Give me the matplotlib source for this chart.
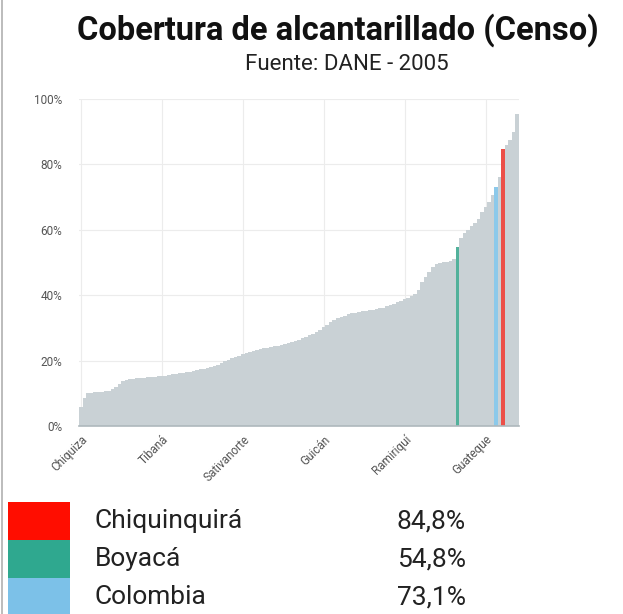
import numpy as np
import matplotlib.pyplot as plt
from matplotlib.patches import Rectangle
from matplotlib.lines import Line2D

plt.rcParams['font.family'] = ['Roboto', 'DejaVu Sans']

# Sewer coverage by municipality (sorted), %
coverage = [
    5.8, 8.5, 10.0, 10.2, 10.3, 10.4, 10.5, 10.6, 10.8, 11.3,
    12.0, 13.0, 13.8, 14.1, 14.3, 14.5, 14.6, 14.7, 14.8, 14.9,
    15.0, 15.1, 15.2, 15.3, 15.4, 15.6, 15.8, 16.0, 16.1, 16.3,
    16.5, 16.6, 16.8, 17.0, 17.3, 17.6, 17.9, 18.2, 18.5, 18.8,
    19.3, 19.8, 20.3, 20.8, 21.2, 21.5, 21.9, 22.3, 22.6, 23.0,
    23.3, 23.6, 23.8, 24.0, 24.2, 24.4, 24.6, 24.8, 25.0, 25.3,
    25.6, 26.0, 26.4, 26.8, 27.2, 27.7, 28.2, 28.7, 29.5, 30.3,
    31.0, 31.8, 32.4, 33.0, 33.4, 33.8, 34.2, 34.5, 34.7, 34.9,
    35.1, 35.3, 35.5, 35.6, 35.8, 36.0, 36.2, 36.6, 37.0, 37.4,
    37.8, 38.3, 38.8, 39.3, 39.8, 40.5, 41.5, 44.0, 45.5, 47.0,
    48.5, 49.5, 49.8, 50.0, 50.3, 50.6, 51.0, 54.8, 57.5, 59.0,
    60.0, 61.0, 62.0, 63.2, 65.5, 67.0, 68.5, 70.5, 73.1, 76.0,
    84.8, 86.0, 87.5, 90.0, 95.5,
]

# highlighted bars: index in the sorted list -> name
highlight_idx = {120: 'Chiquinquirá', 107: 'Boyacá', 118: 'Colombia'}
highlight_names = ['Chiquinquirá', 'Boyacá', 'Colombia']
highlight_values = ['84,8%', '54,8%', '73,1%']

# only every 23rd municipality name is shown on the axis
tick_names = ['Chiquiza', 'Tibaná', 'Sativanorte', 'Guicán', 'Ramiriquí', 'Guateque']
tick_step = 23

bar_colors = {'Chiquinquirá': '#ec4f48', 'Boyacá': '#52b19b', 'Colombia': '#8cc9ea'}
legend_colors = {'Chiquinquirá': '#ff0d00', 'Boyacá': '#2fa88f', 'Colombia': '#7cc1e8'}
gray = '#c9d1d5'

fig = plt.figure(figsize=(6.23, 6.14), dpi=100)
ax = fig.add_axes([0.127, 0.306, 0.706, 0.533])

x = np.arange(len(coverage))
colors = [bar_colors[highlight_idx[i]] if i in highlight_idx else gray for i in x]
ax.bar(x, coverage, width=1.0, color=colors, linewidth=0, zorder=2)

ax.set_xlim(-0.5, len(coverage) - 0.5)
ax.set_ylim(0, 100)
ax.set_yticks([0, 20, 40, 60, 80, 100])
ax.set_yticklabels(['0%', '20%', '40%', '60%', '80%', '100%'])
ax.set_xticks(np.arange(len(tick_names)) * tick_step)
ax.set_xticklabels(tick_names, rotation=45, ha='right', rotation_mode='anchor')
ax.tick_params(axis='both', labelsize=8.5, labelcolor='#555555', length=0, pad=12)
ax.tick_params(axis='x', pad=5)

ax.grid(True, color='#ececec', linewidth=0.8, zorder=0)
for s in ['top', 'right', 'left']:
    ax.spines[s].set_visible(False)
ax.spines['bottom'].set_color('#aeb8bc')
ax.spines['bottom'].set_linewidth(1.2)
ax.spines['bottom'].set_zorder(3)

fig.text(0.542, 0.951, 'Cobertura de alcantarillado (Censo)', ha='center', va='center',
         fontsize=23.5, fontweight='bold', color='#111111')
fig.text(0.556, 0.895, 'Fuente: DANE - 2005', ha='center', va='center',
         fontsize=16, color='#222222')

# legend table below the chart
row_h = 38 / 614
top = 1 - 502 / 614
for k, name in enumerate(highlight_names):
    y0 = top - (k + 1) * row_h
    fig.patches.append(Rectangle((8 / 623, y0), 62 / 623, row_h, transform=fig.transFigure,
                                 facecolor=legend_colors[name], edgecolor='none'))
    fig.text(95 / 623, y0 + row_h / 2, name, ha='left', va='center', fontsize=19, color='#222222')
    fig.text(397 / 623, y0 + row_h / 2, highlight_values[k], ha='left', va='center',
             fontsize=19, color='#222222')

# thin frame on the left edge
fig.lines.append(Line2D([2 / 623, 2 / 623], [0, 1], transform=fig.transFigure,
                        color='#b0b0b0', linewidth=1.2))

fig.savefig('out.png', dpi=100)
